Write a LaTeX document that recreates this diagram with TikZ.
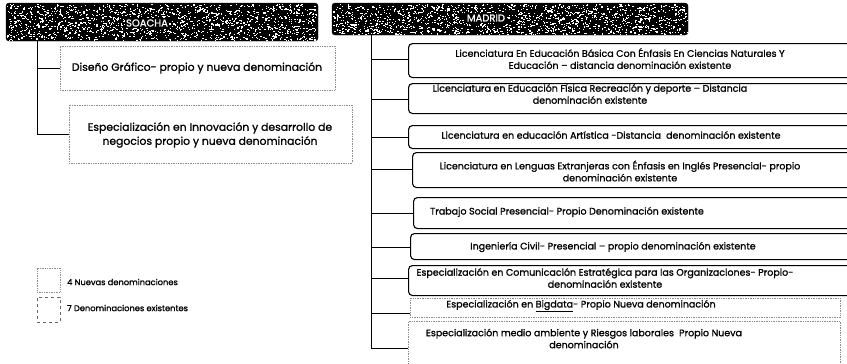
\documentclass[tikz,border=0pt]{standalone}
\usepackage{fontspec}
\setmainfont{Poppins}[FakeBold=1.1]
\begin{document}
\begin{tikzpicture}[x=1pt,y=-1pt,
  hdr/.style={draw=black, fill=black, rounded corners=3pt, inner sep=0pt},
  hdrtxt/.style={fill=black, text=white, inner sep=1.5pt, font=\fontsize{10}{11}\selectfont},
  exist/.style={draw=black, line width=1.1pt, rounded corners=4pt, inner sep=0pt},
  newb/.style={draw=black!45, densely dotted, line width=0.7pt, inner sep=0pt},
  conn/.style={draw=black, line width=0.9pt},
  rtxt/.style={align=center, inner sep=0pt, font=\fontsize{9.5}{12}\selectfont},
  ltxt/.style={align=center, inner sep=0pt, font=\fontsize{10.8}{14}\selectfont},
  legtxt/.style={anchor=west, inner sep=0pt, font=\fontsize{8.3}{10}\selectfont},
  speck/.style={fill=white},
]
\clip (0,0) rectangle (847,364);
\fill[white] (0,0) rectangle (847,364);

% headers
\node[hdr, minimum width=312pt, minimum height=38pt] (soacha) at (162,22) {};
\begin{scope}
  \clip[rounded corners=3pt] (soacha.north west) rectangle (soacha.south east);
  \pgfmathsetseed{11}
  \foreach \i in {1,...,1500}{
    \pgfmathsetmacro\xx{7+310*rnd}
    \pgfmathsetmacro\yy{4+36*rnd}
    \fill[speck] (\xx,\yy) rectangle ++(1.3,1.1);
  }
\end{scope}
\node[hdrtxt] (soachaT) at (147,23) {SOACHA};
\node[hdr, minimum width=356pt, minimum height=32pt] (madrid) at (510,19) {};
\begin{scope}
  \clip[rounded corners=3pt] (madrid.north west) rectangle (madrid.south east);
  \pgfmathsetseed{23}
  \foreach \i in {1,...,1500}{
    \pgfmathsetmacro\xx{333+354*rnd}
    \pgfmathsetmacro\yy{4+30*rnd}
    \fill[speck] (\xx,\yy) rectangle ++(1.3,1.1);
  }
\end{scope}
\node[hdrtxt] (madridT) at (486,18) {MADRID};

% left branch (Soacha)
\node[newb, minimum width=275pt, minimum height=44pt] (l1) at (197.5,68) {};
\node[ltxt] (l1t) at (197,68) {Diseño Gráfico- propio y nueva denominación};
\node[newb, minimum width=283pt, minimum height=58pt] (l2) at (210.5,134) {};
\node[ltxt] (l2t) at (210,135) {Especialización en Innovación y desarrollo de\\negocios propio y nueva denominación};

\coordinate (ltop) at (37,41);
\coordinate (lb1) at (37,68);
\coordinate (lb2) at (37,134);
\draw[conn] (ltop) -- (lb2) -- (l2.west);
\draw[conn] (lb1) -- (l1.west);

% right branch (Madrid)
\node[exist, minimum width=462pt, minimum height=34pt, anchor=north west] (r1) at (408,43) {};
\node[rtxt] (r1t) at (620,58.5) {Licenciatura En Educación Básica Con Énfasis En Ciencias Naturales Y\\Educación – distancia denominación existente};
\node[exist, minimum width=462pt, minimum height=30pt, anchor=north west] (r2) at (408,83) {};
\node[rtxt] (r2t) at (590,94) {Licenciatura en Educación Física Recreación y deporte – Distancia\\denominación existente};
\node[exist, minimum width=462pt, minimum height=23pt, anchor=north west] (r3) at (408,125) {};
\node[rtxt] (r3t) at (611,135) {Licenciatura en educación Artística -Distancia\ \ denominación existente};
\node[exist, minimum width=458pt, minimum height=35pt, anchor=north west] (r4) at (412,152) {};
\node[rtxt] (r4t) at (620,171) {Licenciatura en Lenguas Extranjeras con Énfasis en Inglés Presencial- propio\\denominación existente};
\node[exist, minimum width=457pt, minimum height=31pt, anchor=north west] (r5) at (413,197) {};
\node[rtxt] (r5t) at (567,212) {Trabajo Social Presencial- Propio Denominación existente};
\node[exist, minimum width=460pt, minimum height=26pt, anchor=north west] (r6) at (410,233) {};
\node[rtxt] (r6t) at (613,247) {Ingeniería Civil- Presencial – propio denominación existente};
\node[exist, minimum width=462pt, minimum height=30pt, anchor=north west] (r7) at (408,265) {};
\node[rtxt] (r7t) at (605,278) {Especialización en Comunicación Estratégica para las Organizaciones- Propio-\\denominación existente};
\node[newb, minimum width=430pt, minimum height=19pt, anchor=north west] (r8) at (410,298) {};
\node[rtxt] (r8t) at (581,306) {Especialización en \underline{Bigdata}- Propio Nueva denominación};
\node[newb, minimum width=432pt, minimum height=50pt, anchor=north west] (r9) at (408,321) {};
\node[rtxt] (r9t) at (584,338.5) {Especialización medio ambiente y Riesgos laborales\ \ Propio Nueva\\denominación};

\coordinate (rtop) at (371,35);
\coordinate (rb1) at (371,59);
\coordinate (rb2) at (371,99);
\coordinate (rb3) at (371,137);
\coordinate (rb4) at (371,169);
\coordinate (rb5) at (371,213);
\coordinate (rb6) at (371,247);
\coordinate (rb7) at (371,278);
\coordinate (rb8) at (371,313);
\coordinate (rb9) at (371,348);
\coordinate (r8e) at (410,313);
\coordinate (r9e) at (408,348);
\draw[conn] (rtop) -- (rb9) -- (r9e);
\draw[conn] (rb1) -- (rb1 -| r1.west);
\draw[conn] (rb2) -- (rb2 -| r2.west);
\draw[conn] (rb3) -- (rb3 -| r3.west);
\draw[conn] (rb4) -- (rb4 -| r4.west);
\draw[conn] (rb5) -- (rb5 -| r5.west);
\draw[conn] (rb6) -- (rb6 -| r6.west);
\draw[conn] (rb7) -- (rb7 -| r7.west);
\draw[conn] (rb8) -- (r8e);

% legend
\node[newb, minimum width=23pt, minimum height=24pt] (lg1) at (48.5,280) {};
\node[legtxt] (lg1t) at (67,282) {4 Nuevas denominaciones};
\node[draw=black!60, dashed, line width=0.5pt, minimum width=23pt, minimum height=25pt, inner sep=0pt] (lg2) at (48.5,309.5) {};
\node[legtxt] (lg2t) at (67,308) {7 Denominaciones existentes};
\end{tikzpicture}
\end{document}
